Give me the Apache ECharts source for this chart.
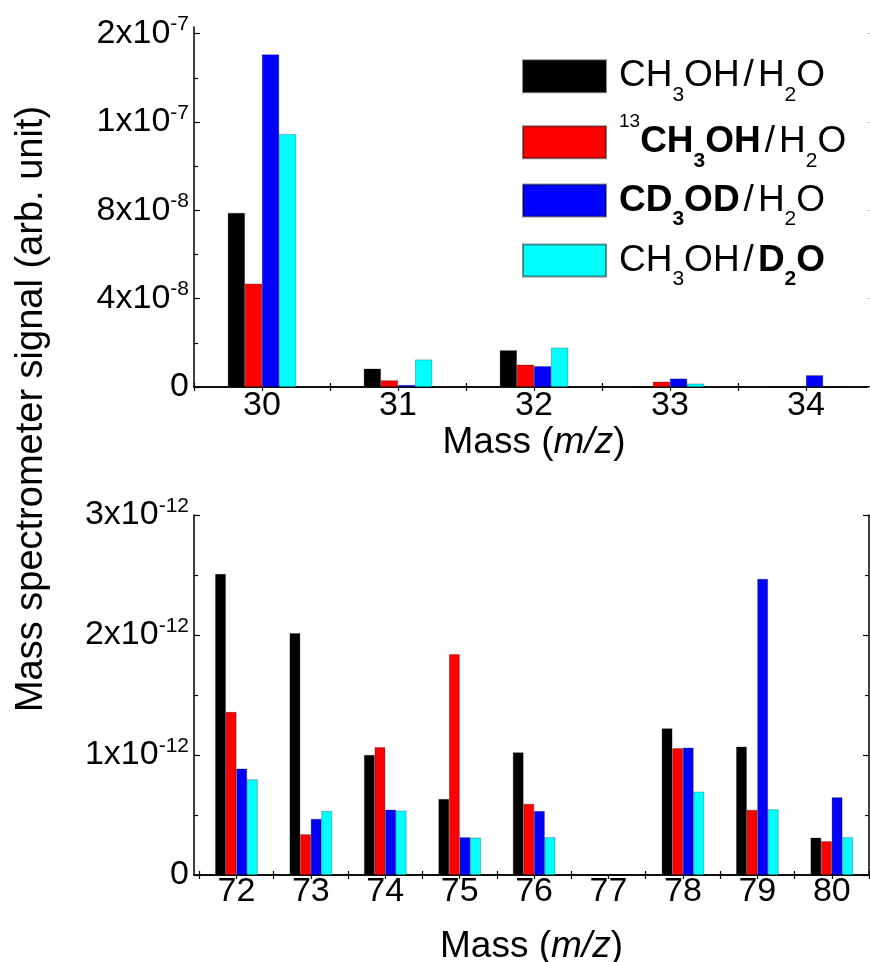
<!DOCTYPE html>
<html><head><meta charset="utf-8">
<script src="https://cdn.jsdelivr.net/npm/echarts@6/dist/echarts.min.js"></script>
<style>html,body{margin:0;padding:0;background:#fff}#c{width:870px;height:962px}</style>
</head><body><div id="c"></div>
<script>
// ---------------- data ----------------
const seriesNames = ['CH3OH/H2O', '13CH3OH/H2O', 'CD3OD/H2O', 'CH3OH/D2O'];
const seriesColors = ['#000000', '#ff0000', '#0000ff', '#00ffff'];

const massesTop = [30, 31, 32, 33, 34];
const topCH3OH_H2O   = [7.88e-8, 8.3e-9, 1.66e-8, 0, 0];
const top13CH3OH_H2O = [4.68e-8, 3.0e-9, 1.01e-8, 2.4e-9, 0];
const topCD3OD_H2O   = [1.506e-7, 0.9e-9, 9.4e-9, 3.8e-9, 5.3e-9];
const topCH3OH_D2O   = [1.145e-7, 1.24e-8, 1.78e-8, 1.5e-9, 0];

const massesBottom = [72, 73, 74, 75, 76, 77, 78, 79, 80];
const botCH3OH_H2O   = [2.508e-12, 2.014e-12, 1.0e-12, 0.633e-12, 1.022e-12, 0, 1.222e-12, 1.069e-12, 0.311e-12];
const bot13CH3OH_H2O = [1.358e-12, 0.339e-12, 1.064e-12, 1.839e-12, 0.592e-12, 0, 1.056e-12, 0.542e-12, 0.281e-12];
const botCD3OD_H2O   = [0.886e-12, 0.467e-12, 0.544e-12, 0.314e-12, 0.533e-12, 0, 1.061e-12, 2.467e-12, 0.647e-12];
const botCH3OH_D2O   = [0.797e-12, 0.533e-12, 0.536e-12, 0.311e-12, 0.314e-12, 0, 0.694e-12, 0.547e-12, 0.314e-12];

const topTickValues = [0, 4e-8, 8e-8, 1.2e-7, 1.6e-7];
const topTickBase   = ['0', '4x10', '8x10', '1x10', '2x10'];
const topTickExp    = ['', '-8', '-8', '-7', '-7'];
const botTickValues = [0, 1e-12, 2e-12, 3e-12];
const botTickBase   = ['0', '1x10', '2x10', '3x10'];
const botTickExp    = ['', '-12', '-12', '-12'];

const yTitle = 'Mass spectrometer signal (arb. unit)';
const xTitleRich = '{n|Mass (}{i|m/z}{n|)}';
const legendRich = {
  'CH3OH/H2O':   '{n|CH}{s|3}{n|OH}{sl|/}{n|H}{s|2}{n|O}',
  '13CH3OH/H2O': '{p|13}{b|CH}{sb|3}{b|OH}{sl|/}{n|H}{s|2}{n|O}',
  'CD3OD/H2O':   '{b|CD}{sb|3}{b|OD}{sl|/}{n|H}{s|2}{n|O}',
  'CH3OH/D2O':   '{n|CH}{s|3}{n|OH}{sl|/}{b|D}{sb|2}{b|O}'
};

// ---------------- layout / style ----------------
const FONT = 'Liberation Sans, Arial, Helvetica, sans-serif';
const topRange = [29.5, 34.5], topYMax = 1.63e-7;
const botRange = [71.43, 80.5], botYMax = 3e-12;
const grids = [
  {left: 194, top: 27, width: 680, height: 360, outerBoundsMode: 'none', containLabel: false},
  {left: 194, top: 515, width: 675, height: 360, outerBoundsMode: 'none', containLabel: false}
];
const legendTops = [46.7, 112.7, 171, 231];

function halfSteps(a, b, step) { const r = []; for (let v = a; v <= b + 1e-9; v += step) r.push(+v.toFixed(3)); return r; }
function mids(arr) { const r = []; for (let i = 0; i < arr.length - 1; i++) r.push((arr[i] + arr[i + 1]) / 2); return r; }
function yLabelFormatter(vals, base, exp) {
  return function (v) {
    let idx = 0, best = Infinity;
    vals.forEach((t, i) => { const d = Math.abs(t - v); if (d < best) { best = d; idx = i; } });
    return exp[idx] ? '{b|' + base[idx] + '}{e|' + exp[idx] + '}' : '{b|' + base[idx] + '}';
  };
}
const yRich = {
  b: {fontSize: 34, fontFamily: FONT, color: '#000', lineHeight: 36},
  e: {fontSize: 21, fontFamily: FONT, color: '#000', lineHeight: 1, padding: [0, 0, 18, 0]}
};
const axisLine = {show: true, lineStyle: {color: '#000', width: 1.5}};

function xAxesFor(gi, range, masses, nameGap, labelMargin) {
  const boundaries = halfSteps(masses[0] - 0.5, masses[masses.length - 1] + 0.5, 1);
  const halves = halfSteps(masses[0] - 0.5, masses[masses.length - 1] + 0.5, 0.5);
  return [
    {type: 'value', gridIndex: gi, min: range[0], max: range[1], position: 'bottom',
     axisLine, splitLine: {show: false},
     axisTick: {show: true, inside: true, length: 4, customValues: boundaries, lineStyle: {color: '#000', width: 1.2}},
     axisLabel: {show: true, customValues: masses, fontSize: 34, fontFamily: FONT, color: '#000', margin: labelMargin},
     name: xTitleRich, nameLocation: 'middle', nameGap,
     nameTextStyle: {rich: {
       n: {fontSize: 37, fontFamily: FONT, color: '#000'},
       i: {fontSize: 37, fontFamily: FONT, color: '#000', fontStyle: 'italic'}}}},
    {type: 'value', gridIndex: gi, min: range[0], max: range[1], position: 'top',
     axisLine, splitLine: {show: false}, axisLabel: {show: false},
     axisTick: {show: true, inside: true, length: 4, customValues: halves, lineStyle: {color: '#000', width: 1.2}}}
  ];
}
function yAxesFor(gi, max, vals, base, exp, rightLine) {
  const minor = mids(vals);
  const common = {type: 'value', gridIndex: gi, min: 0, max, splitLine: {show: false}};
  return [
    Object.assign({}, common, {position: 'left', axisLine,
      axisTick: {show: true, inside: true, length: 6, customValues: vals, lineStyle: {color: '#000', width: 1.2}},
      axisLabel: {show: true, customValues: vals, margin: 5, formatter: yLabelFormatter(vals, base, exp), rich: yRich}}),
    Object.assign({}, common, {position: 'left', axisLine: {show: false}, axisLabel: {show: false},
      axisTick: {show: true, inside: true, length: 4, customValues: minor, lineStyle: {color: '#000', width: 1.2}}}),
    Object.assign({}, common, {position: 'right', axisLine: rightLine ? axisLine : {show: false}, axisLabel: {show: false},
      axisTick: {show: true, inside: true, length: 6, customValues: vals, lineStyle: {color: rightLine ? '#000' : '#bbb', width: 1.2}}}),
    Object.assign({}, common, {position: 'right', axisLine: {show: false}, axisLabel: {show: false},
      axisTick: {show: true, inside: true, length: 4, customValues: minor, lineStyle: {color: rightLine ? '#000' : '#bbb', width: 1.2}}})
  ];
}

const topSets = [topCH3OH_H2O, top13CH3OH_H2O, topCD3OD_H2O, topCH3OH_D2O];
const botSets = [botCH3OH_H2O, bot13CH3OH_H2O, botCD3OD_H2O, botCH3OH_D2O];
const series = [];
seriesNames.forEach((name, i) => {
  const style = {color: seriesColors[i], borderColor: 'rgba(0,0,0,0.45)', borderWidth: 0.6};
  series.push({type: 'bar', name, xAxisIndex: 0, yAxisIndex: 0, barWidth: 17.1, barGap: '0%',
    itemStyle: style, data: massesTop.map((m, k) => [m, topSets[i][k]]), animation: false});
  series.push({type: 'bar', name, xAxisIndex: 2, yAxisIndex: 4, barWidth: 10.6, barGap: '0%',
    itemStyle: style, data: massesBottom.map((m, k) => [m, botSets[i][k]]), animation: false});
});

const legendTextRich = {
  n: {fontSize: 37, fontFamily: FONT, color: '#000', lineHeight: 40},
  b: {fontSize: 37, fontFamily: FONT, color: '#000', fontWeight: 'bold', lineHeight: 40},
  sl: {fontSize: 37, fontFamily: FONT, color: '#000', lineHeight: 40, padding: [0, 4, 0, 4]},
  s: {fontSize: 21, fontFamily: FONT, color: '#000', lineHeight: 1, padding: [38, 0, 0, 0]},
  sb: {fontSize: 21, fontFamily: FONT, color: '#000', fontWeight: 'bold', lineHeight: 1, padding: [38, 0, 0, 0]},
  p: {fontSize: 19, fontFamily: FONT, color: '#000', lineHeight: 1, padding: [0, 0, 40, 0]}
};

const option = {
  backgroundColor: '#fff',
  animation: false,
  textStyle: {fontFamily: FONT},
  grid: grids,
  xAxis: [].concat(xAxesFor(0, topRange, massesTop, 35, 2), xAxesFor(1, botRange, massesBottom, 53, 0)),
  yAxis: [].concat(yAxesFor(0, topYMax, topTickValues, topTickBase, topTickExp, false),
                   yAxesFor(1, botYMax, botTickValues, botTickBase, botTickExp, true)),
  legend: seriesNames.map((n, i) => ({
    data: [n], left: 522, top: legendTops[i], orient: 'vertical', padding: 0,
    itemWidth: 83, itemHeight: 32, icon: 'rect', selectedMode: false,
    formatter: (name) => legendRich[name],
    textStyle: {rich: legendTextRich, padding: [0, 0, 0, 8]}
  })),
  graphic: [{type: 'text', x: 32, y: 409, rotation: Math.PI / 2,
    style: {text: yTitle, font: '38px ' + FONT, fill: '#000', align: 'center', verticalAlign: 'middle'}}],
  series
};
const chart = echarts.init(document.getElementById('c'), null, {renderer: 'canvas'});
chart.setOption(option);
</script></body></html>
